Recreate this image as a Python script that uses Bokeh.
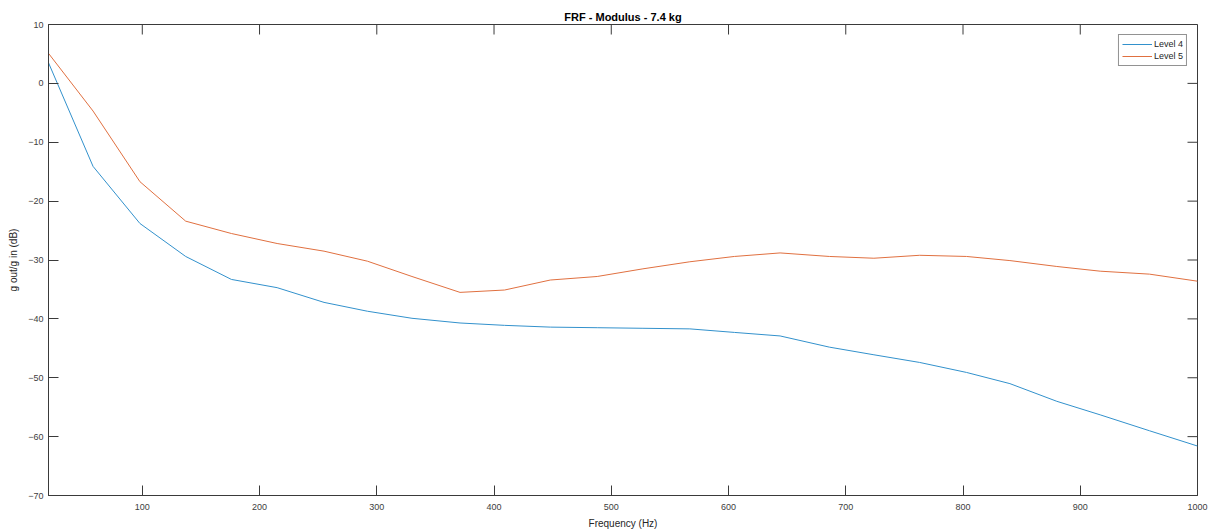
import math
from bokeh.plotting import figure
from bokeh.models import FixedTicker, Range1d, Legend, LegendItem, Title
from bokeh.embed import file_html
from bokeh.resources import INLINE

freq = [20, 58, 98, 137, 176, 215, 255, 292, 330, 371, 409, 448, 488, 527,
        567, 605, 644, 686, 724, 763, 803, 840, 880, 917, 959, 1000]
level4 = [3.5, -14.1, -23.8, -29.4, -33.3, -34.7, -37.2, -38.7, -39.9, -40.7,
          -41.1, -41.4, -41.5, -41.6, -41.7, -42.3, -42.9, -44.8, -46.1, -47.4,
          -49.1, -51.0, -54.0, -56.3, -59.0, -61.6]
level5 = [5.1, -4.7, -16.7, -23.4, -25.5, -27.2, -28.5, -30.2, -32.8, -35.5,
          -35.1, -33.4, -32.8, -31.5, -30.3, -29.4, -28.8, -29.4, -29.7, -29.2,
          -29.4, -30.1, -31.1, -31.9, -32.4, -33.6]
series_names = ["Level 4", "Level 5"]
x_ticks = [100, 200, 300, 400, 500, 600, 700, 800, 900, 1000]
y_ticks = [-70, -60, -50, -40, -30, -20, -10, 0, 10]
x_min, x_max = 20, 1000
y_min, y_max = -70, 10

FONT = "Liberation Sans"
AX = "#3a3a3a"

p = figure(width=1210, height=531, output_backend="svg", toolbar_location=None,
           x_range=Range1d(x_min, x_max), y_range=Range1d(y_min, y_max),
           min_border_left=48, min_border_right=13, min_border_top=24, min_border_bottom=10)
p.title = Title(text="FRF - Modulus - 7.4 kg", align="center",
                text_font=FONT, text_font_size="11px", text_font_style="bold",
                text_color="#000000", standoff=3)
p.grid.visible = False
p.outline_line_color = AX
p.outline_line_width = 1
p.background_fill_color = "white"

def style(ax):
    ax.axis_line_color = AX
    ax.axis_line_width = 1
    ax.major_tick_line_color = AX
    ax.major_tick_in = 10
    ax.major_tick_out = 0
    ax.minor_tick_in = 0
    ax.minor_tick_out = 0
    ax.major_label_text_font = FONT
    ax.major_label_text_font_size = "9px"
    ax.major_label_text_color = "#404040"
    ax.axis_label_text_font = FONT
    ax.axis_label_text_font_size = "10px"
    ax.axis_label_text_font_style = "normal"
    ax.axis_label_text_color = "#262626"

p.xaxis[0].ticker = FixedTicker(ticks=x_ticks)
p.yaxis[0].ticker = FixedTicker(ticks=y_ticks)
p.xaxis[0].axis_label = "Frequency (Hz)"
p.yaxis[0].axis_label = "g out/g in (dB)"
style(p.xaxis[0])
style(p.yaxis[0])
p.xaxis[0].major_label_standoff = 8
p.yaxis[0].major_label_standoff = 5
p.xaxis[0].axis_label_standoff = 5
p.yaxis[0].axis_label_standoff = 6

# mirrored inward ticks on the top and right edges of the box
p.ray(x=x_ticks, y=[y_max] * len(x_ticks), length=10, length_units="screen",
      angle=-math.pi / 2, line_color=AX, line_width=1)
p.ray(x=[x_max] * len(y_ticks), y=y_ticks, length=10, length_units="screen",
      angle=math.pi, line_color=AX, line_width=1)

r4 = p.line(freq, level4, line_color="#3291cc", line_width=1)
r5 = p.line(freq, level5, line_color="#e07040", line_width=1)

legend = Legend(items=[LegendItem(label=series_names[0], renderers=[r4]),
                       LegendItem(label=series_names[1], renderers=[r5])],
                location="top_right", margin=10, padding=3, spacing=0,
                glyph_width=30, glyph_height=12, label_standoff=2,
                label_text_font=FONT, label_text_font_size="9px",
                label_text_color="#262626", label_height=12,
                border_line_color="#262626", border_line_width=1,
                background_fill_alpha=1)
p.add_layout(legend, "center")

open("out.html", "w").write(file_html(p, INLINE))
